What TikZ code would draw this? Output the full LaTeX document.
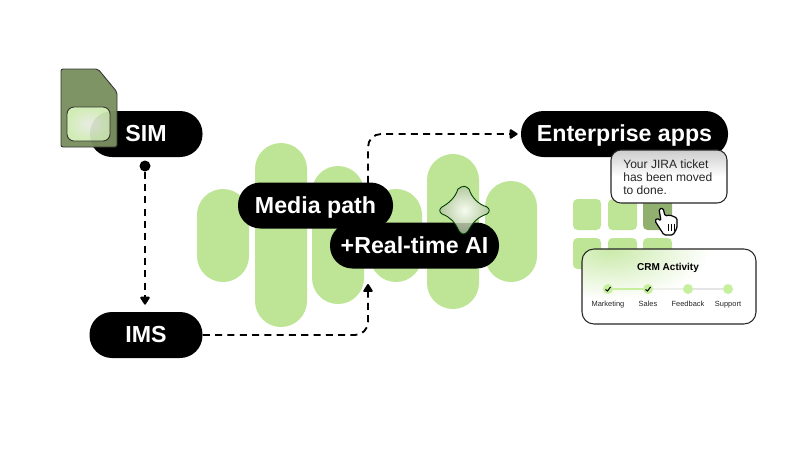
\documentclass[tikz,border=0pt]{standalone}
\usepackage{fontspec}
\setmainfont{Liberation Sans}
\usetikzlibrary{positioning,arrows.meta}
\definecolor{pillgreen}{HTML}{BDE595}
\definecolor{darkgreen}{HTML}{91B070}
\definecolor{simgreen}{HTML}{7F9464}
\definecolor{stepgreen}{HTML}{C6EF9E}
\tikzset{
  barpill/.style={fill=pillgreen, rounded corners=26*0.02cm},
  tile/.style={fill=pillgreen, rounded corners=4.5*0.02cm},
  blackpill/.style={rectangle, fill=black, text=white, rounded corners=22.5*0.02cm, minimum height=46*0.02cm, inner sep=0pt, text height=8.6pt, text depth=0pt, font=\fontsize{13.2}{16}\selectfont\bfseries},
  flowline/.style={draw=black, line width=1.05pt, dash pattern=on 4pt off 3pt, rounded corners=13*0.02cm, -{Triangle[length=5pt,width=6pt,round]}},
  stepdot/.style={circle, fill=stepgreen, minimum size=10*0.02cm, inner sep=0pt},
  steplabel/.style={anchor=base, font=\fontsize{4.25}{6}\selectfont, text=black!85},
  tick/.style={line width=0.6pt, black}
}
\begin{document}
\begin{tikzpicture}[x=0.02cm, y=-0.02cm]
  \useasboundingbox (0,0) rectangle (800,450);

  % Green bars
  \fill[barpill] (197,189) rectangle (249,282);
  \fill[barpill] (255,143) rectangle (307,327);
  \fill[barpill] (312,166) rectangle (364,304);
  \fill[barpill] (370,189) rectangle (422,282);
  \fill[barpill] (427,154) rectangle (479,309);
  \fill[barpill] (485,181) rectangle (537,282);

  % Pills
  \node[blackpill, minimum width=113*0.02cm] (sim) at (146,134) {SIM};
  \node[blackpill, minimum width=113*0.02cm] (ims) at (146,335) {IMS};
  \node[blackpill, minimum width=207*0.02cm] (enterprise) at (624.5,134) {Enterprise apps};
  \coordinate (mediaout) at (368,183);
  \coordinate (aiin) at (368,284);

  % Connectors
  \node[circle, fill=black, minimum size=11*0.02cm, inner sep=0pt] (simdot) at (145,166) {};
  \draw[flowline, shorten >=7*0.02cm] (simdot) -- (ims.north -| simdot);
  \draw[flowline] (ims.east) -| (aiin);
  \draw[flowline, shorten >=3*0.02cm] (mediaout) |- (enterprise.west);

  \node[blackpill, minimum width=155*0.02cm] (media) at (315.5,205.5) {Media path};
  \node[blackpill, minimum width=169*0.02cm] (realtime) at (414.5,245.5) {+Real-time AI};

  % SIM card
  \draw[fill=simgreen, draw=black!80, line width=0.5pt, rounded corners=2*0.02cm]
    (61,69) -- (98,69) -- (117,92) -- (117,147) -- (61,147) -- cycle;
  \shade[draw=black!80, line width=0.5pt, rounded corners=7*0.02cm, inner color=white!82!simgreen, outer color=pillgreen!70!white]
    (67,107) rectangle (110,141);
  \begin{scope}
    \clip (61,69) -- (98,69) -- (117,92) -- (117,147) -- (61,147) -- cycle;
    \fill[black, opacity=0.07, rounded corners=22.5*0.02cm] (90,111) rectangle (200,157);
  \end{scope}

  % Star
  \def\starpath{(458,189) .. controls (463,185) and (466,186) .. (469,189)
    .. controls (472,198) and (478,204) .. (487,207)
    .. controls (490,209) and (490,212) .. (487,214)
    .. controls (478,217) and (473,222) .. (468,231)
    .. controls (465,235) and (462,235) .. (459,231)
    .. controls (455,222) and (450,217) .. (442,214)
    .. controls (439,212) and (439,209) .. (442,207)
    .. controls (449,203) and (455,198) .. (458,189) -- cycle}
  \shade[inner color=white!85!pillgreen, outer color=darkgreen!70!white] \starpath;
  \begin{scope}
    \clip \starpath;
    \fill[black, opacity=0.2] (440,223) rectangle (489,268);
  \end{scope}
  \draw[black!75!green, line width=0.5pt] \starpath;

  % App tiles
  \fill[tile] (573,199) rectangle (601,230);
  \fill[tile] (608,199) rectangle (637,230);
  \fill[tile, fill=darkgreen] (643,199) rectangle (672,230);
  \fill[tile] (573,238) rectangle (601,269);
  \fill[tile] (608,238) rectangle (637,269);
  \fill[tile] (643,238) rectangle (672,269);

  % Tooltip
  \draw[black!85, line width=0.6pt, rounded corners=10*0.02cm, top color=black!20, bottom color=white, middle color=white]
    (611,150) rectangle (727,203);
  \node[anchor=west, align=left, inner sep=0pt, font=\fontsize{6.85}{7.4}\selectfont, text=black!85] (ticket) at (623,177)
    {Your JIRA ticket\\has been moved\\to done.};

  % Hand
  \draw[draw=black, fill=white, line width=0.7pt, line join=round, rounded corners=1.5*0.02cm]
    (659,209) -- (663,208) -- (665,216) -- (670,215) -- (677,218) -- (677,228)
    -- (673,235) -- (664,235) -- (655,221) -- (657,218) -- (661,221) -- cycle;
  \draw[black, line width=0.45pt] (668,224) -- (668,231) (671,224) -- (671,231) (674,224) -- (674,231);

  % CRM card
  \fill[white, rounded corners=12*0.02cm] (582,249) rectangle (756,324);
  \begin{scope}
    \clip[rounded corners=12*0.02cm] (582,249) rectangle (756,324);
    \shade[inner color=pillgreen!80!white, outer color=white] (610,250) ellipse (100 and 50);
  \end{scope}
  \draw[black!85, line width=0.6pt, rounded corners=12*0.02cm] (582,249) rectangle (756,324);
  \node[font=\fontsize{5.7}{7}\selectfont\bfseries] (crm) at (668,268) {CRM Activity};

  \node[stepdot] (marketing) at (608,289) {};
  \node[stepdot] (sales) at (648,289) {};
  \node[stepdot] (feedback) at (688,289) {};
  \node[stepdot] (support) at (728,289) {};
  \draw[stepgreen, line width=0.7pt] (marketing) -- (sales);
  \draw[stepgreen!50!black!12, line width=0.7pt] (sales) -- (feedback);
  \draw[black!10, line width=0.7pt] (feedback) -- (support);
  \draw[tick] (605.5,289.5) -- (607.5,291) -- (610.5,287);
  \draw[tick] (645.5,289.5) -- (647.5,291) -- (650.5,287);

  \node[steplabel] (marketinglabel) at (608,306.5) {Marketing};
  \node[steplabel] (saleslabel) at (648,306.5) {Sales};
  \node[steplabel] (feedbacklabel) at (688,306.5) {Feedback};
  \node[steplabel] (supportlabel) at (728,306.5) {Support};
\end{tikzpicture}
\end{document}
